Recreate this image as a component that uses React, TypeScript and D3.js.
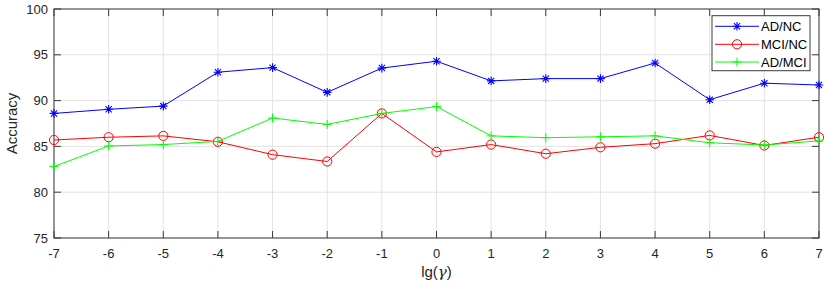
import React from "react";
import * as d3 from "d3";

const lgGamma = [-7, -6, -5, -4, -3, -2, -1, 0, 1, 2, 3, 4, 5, 6, 7];
const adNc = [88.6, 89.05, 89.4, 93.1, 93.6, 90.9, 93.55, 94.3, 92.15, 92.4, 92.4, 94.1, 90.1, 91.9, 91.7];
const mciNc = [85.7, 86.0, 86.15, 85.5, 84.1, 83.35, 88.6, 84.4, 85.2, 84.2, 84.9, 85.3, 86.2, 85.1, 86.0];
const adMci = [82.8, 85.05, 85.2, 85.55, 88.1, 87.4, 88.6, 89.35, 86.15, 85.95, 86.05, 86.15, 85.4, 85.15, 85.6];
const yTicks = [75, 80, 85, 90, 95, 100];
const seriesNames = ["AD/NC", "MCI/NC", "AD/MCI"];
const seriesColors = ["#0000ff", "#ff0000", "#00ff00"];
const seriesMarkers = ["asterisk", "circle", "plus"];

const W = 829;
const H = 288;
const L = 54, R = 819, T = 9, B = 238;
const FONT = "'Liberation Sans', Arial, Helvetica, sans-serif";

function Marker({ kind, x, y, color }: { kind: string; x: number; y: number; color: string }) {
  if (kind === "circle") {
    return <circle cx={x} cy={y} r={4.6} fill="none" stroke={color} strokeWidth={1} />;
  }
  if (kind === "plus") {
    const s = 4.5;
    return (
      <path d={`M${x - s},${y}H${x + s}M${x},${y - s}V${y + s}`} stroke={color} strokeWidth={1} fill="none" />
    );
  }
  const s = 4.3;
  const d = s * 0.72;
  return (
    <path
      d={`M${x - s},${y}H${x + s}M${x},${y - s}V${y + s}M${x - d},${y - d}L${x + d},${y + d}M${x - d},${y + d}L${x + d},${y - d}`}
      stroke={color}
      strokeWidth={1.1}
      fill="none"
    />
  );
}

export default function App() {
  const x = d3.scaleLinear().domain([-7, 7]).range([L, R]);
  const y = d3.scaleLinear().domain([75, 100]).range([B, T]);
  const data = [adNc, mciNc, adMci];
  const line = d3
    .line<number>()
    .x((_, i) => x(lgGamma[i]))
    .y((d) => y(d));
  const tickLen = 7;
  const axisColor = "#3a3a3a";
  const gridColor = "#e3e3e3";

  const legX = 712, legY = 15.7, legW = 98, legH = 55;
  const legRows = [26.3, 44.3, 62];

  return (
    <svg width={W} height={H} style={{ position: "absolute", left: 0, top: 0, background: "#fff" }} fontFamily={FONT}>
      <rect x={0} y={0} width={W} height={H} fill="#fff" />
      {/* grid */}
      {lgGamma.map((g) => (
        <line key={"gx" + g} x1={x(g)} x2={x(g)} y1={T} y2={B} stroke={gridColor} strokeWidth={1} />
      ))}
      {yTicks.map((t) => (
        <line key={"gy" + t} x1={L} x2={R} y1={y(t)} y2={y(t)} stroke={gridColor} strokeWidth={1} />
      ))}
      {/* ticks */}
      {lgGamma.map((g) => (
        <g key={"tx" + g}>
          <line x1={x(g)} x2={x(g)} y1={B} y2={B - tickLen} stroke={axisColor} strokeWidth={1} />
          <line x1={x(g)} x2={x(g)} y1={T} y2={T + tickLen} stroke={axisColor} strokeWidth={1} />
          <text x={x(g)} y={258} textAnchor="middle" fontSize={13} fill="#262626">
            {g < 0 ? "-" + Math.abs(g) : String(g)}
          </text>
        </g>
      ))}
      {yTicks.map((t) => (
        <g key={"ty" + t}>
          <line x1={L} x2={L + tickLen} y1={y(t)} y2={y(t)} stroke={axisColor} strokeWidth={1} />
          <line x1={R} x2={R - tickLen} y1={y(t)} y2={y(t)} stroke={axisColor} strokeWidth={1} />
          <text x={L - 6} y={y(t) + 4.6} textAnchor="end" fontSize={13} fill="#262626">
            {t}
          </text>
        </g>
      ))}
      {/* box */}
      <rect x={L} y={T} width={R - L} height={B - T} fill="none" stroke={axisColor} strokeWidth={1} />
      {/* series */}
      {data.map((vals, si) => (
        <g key={"s" + si}>
          <path d={line(vals) || ""} fill="none" stroke={seriesColors[si]} strokeWidth={1} />
          {vals.map((v, i) => (
            <Marker key={i} kind={seriesMarkers[si]} x={x(lgGamma[i])} y={y(v)} color={seriesColors[si]} />
          ))}
        </g>
      ))}
      {/* legend */}
      <rect x={legX} y={legY} width={legW} height={legH} fill="#fff" stroke={axisColor} strokeWidth={1} />
      {seriesNames.map((n, si) => (
        <g key={"l" + si}>
          <line x1={715} x2={759} y1={legRows[si]} y2={legRows[si]} stroke={seriesColors[si]} strokeWidth={1} />
          <Marker kind={seriesMarkers[si]} x={737} y={legRows[si]} color={seriesColors[si]} />
          <text x={761} y={legRows[si] + 4.5} fontSize={13} fill="#000">
            {n}
          </text>
        </g>
      ))}
      {/* axis labels */}
      <text x={(L + R) / 2} y={277} textAnchor="middle" fontSize={15} fill="#262626">
        lg(
        <tspan fontFamily="'DejaVu Serif', 'Liberation Serif', serif" fontStyle="italic">γ</tspan>)
      </text>
      <text transform={`translate(17,${(T + B) / 2}) rotate(-90)`} textAnchor="middle" fontSize={15} fill="#262626">
        Accuracy
      </text>
    </svg>
  );
}
